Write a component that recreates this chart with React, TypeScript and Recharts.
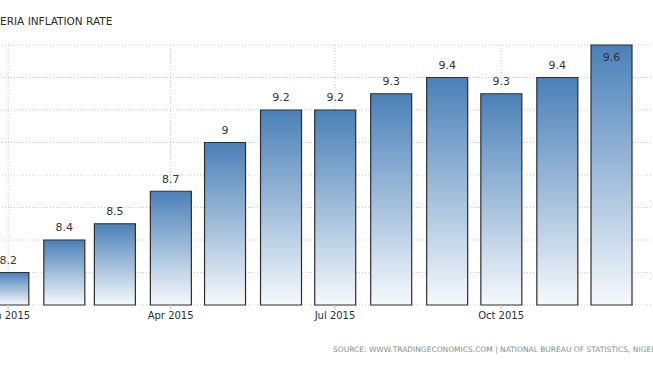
import React from "react";
import { Bar, BarChart, CartesianGrid, LabelList, XAxis, YAxis } from "recharts";

const months = [
  "2015-01-01", "2015-02-01", "2015-03-01", "2015-04-01", "2015-05-01", "2015-06-01",
  "2015-07-01", "2015-08-01", "2015-09-01", "2015-10-01", "2015-11-01", "2015-12-01",
];
const inflation = [8.2, 8.4, 8.5, 8.7, 9, 9.2, 9.2, 9.3, 9.4, 9.3, 9.4, 9.6];
const tickMonths = ["2015-01-01", "2015-04-01", "2015-07-01", "2015-10-01"];
const tickLabels = ["Jan 2015", "Apr 2015", "Jul 2015", "Oct 2015"];
const yTicks = [8, 8.2, 8.4, 8.6, 8.8, 9, 9.2, 9.4, 9.6];

const DAY = 86400000;
const origin = Date.parse(months[0]);
const toDay = (s: string) => (Date.parse(s) - origin) / DAY;

const data = months.map((m, i) => ({ day: toDay(m), value: inflation[i] }));
const tickDays = tickMonths.map(toDay);
const yMax = yTicks[yTicks.length - 1];

const FONT = "'DejaVu Sans', sans-serif";

function ValueLabel(props: any) {
  const { x, y, width, value } = props;
  const inside = value >= yMax;
  return (
    <text
      x={x + width / 2}
      y={inside ? y + 16 : y - 8.5}
      textAnchor="middle"
      fontSize={11}
      fontFamily={FONT}
      fill="#333"
    >
      {String(value)}
    </text>
  );
}

export default function App() {
  return (
    <div
      style={{
        position: "fixed",
        left: 0,
        top: 0,
        width: 653,
        height: 365,
        overflow: "hidden",
        background: "#fff",
      }}
    >
      <div
        style={{
          position: "absolute",
          left: -19,
          top: 14.5,
          fontFamily: FONT,
          fontSize: 10.5,
          lineHeight: "12px",
          color: "#2a2a2a",
          whiteSpace: "nowrap",
        }}
      >
        NIGERIA INFLATION RATE
      </div>
      <div style={{ position: "absolute", left: -27.6, top: 0 }}>
        <BarChart
          width={704.3}
          height={365}
          data={data}
          margin={{ top: 45, right: 0, bottom: 0, left: 0 }}
        >
          <defs>
            <linearGradient id="barGrad" x1="0" y1="0" x2="0" y2="1">
              <stop offset="0%" stopColor="#4a80b8" />
              <stop offset="100%" stopColor="#f6f9fc" />
            </linearGradient>
          </defs>
          <CartesianGrid stroke="#c8c8c8" strokeDasharray="1 2" />
          <XAxis
            type="number"
            dataKey="day"
            domain={[-20, 370]}
            ticks={tickDays}
            interval={0}
            tickFormatter={(v: number) => tickLabels[tickDays.indexOf(v)] ?? ""}
            height={60}
            axisLine={false}
            tickLine={{ stroke: "#c0c0c0" }}
            tickSize={5}
            tick={{ fontSize: 10, fontFamily: FONT, fill: "#2a2a44" }}
          />
          <YAxis type="number" domain={[8, yMax]} ticks={yTicks} hide />
          <Bar
            dataKey="value"
            barSize={41}
            fill="url(#barGrad)"
            stroke="#2e2e2e"
            strokeWidth={1.2}
            isAnimationActive={false}
          >
            <LabelList dataKey="value" content={ValueLabel} />
          </Bar>
        </BarChart>
      </div>
      <div
        style={{
          position: "absolute",
          left: 333,
          top: 345,
          fontFamily: FONT,
          fontSize: 7.5,
          lineHeight: "10px",
          color: "#8c8c8c",
          whiteSpace: "nowrap",
        }}
      >
        SOURCE: WWW.TRADINGECONOMICS.COM | NATIONAL BUREAU OF STATISTICS, NIGERIA
      </div>
    </div>
  );
}
